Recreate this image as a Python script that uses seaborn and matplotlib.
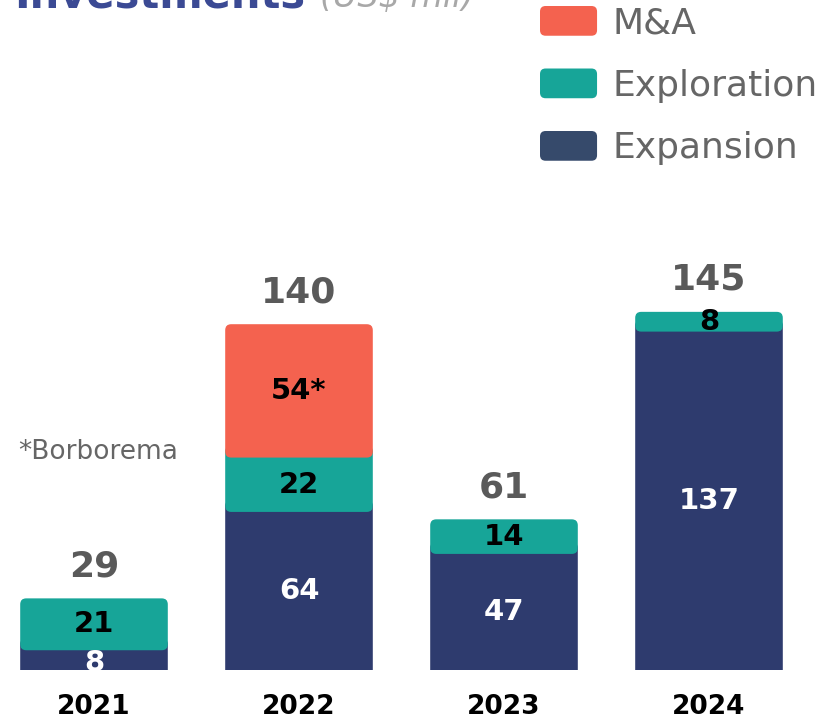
import numpy as np
import pandas as pd
import matplotlib
matplotlib.use("Agg")
import matplotlib.pyplot as plt
import seaborn as sns
from matplotlib.patches import FancyBboxPatch, Patch
from matplotlib.legend_handler import HandlerPatch

sns.set_theme(style="white")
plt.rcParams['font.family'] = ['DejaVu Sans']

# Données (US$ mil)
annees = ["2021", "2022", "2023", "2024"]
expansion = [8, 64, 47, 137]
exploration = [21, 22, 14, 8]
ma = [0, 54, 0, 0]
ma_labels = ["", "54*", "", ""]
totaux = [29, 140, 61, 145]

series = ["Expansion", "Exploration", "M&A"]
couleurs = {"Expansion": "#2E3B6E", "Exploration": "#17A598", "M&A": "#F4624F"}
couleurs_legende = {"Expansion": "#364A6B", "Exploration": "#17A598", "M&A": "#F4624F"}

df = pd.DataFrame({"annee": annees, "Expansion": expansion,
                   "Exploration": exploration, "M&A": ma})

fig = plt.figure(figsize=(8.3, 7.18), dpi=100)
ax = fig.add_axes([0, 48 / 718, 1, 670 / 718])

bas = np.zeros(len(annees))
couches = []
for s in series:
    n0 = len(ax.patches)
    sns.barplot(data=df, x="annee", y=s, color=couleurs[s], width=0.72,
                bottom=bas, ax=ax, saturation=1)
    couches.append((s, ax.patches[n0:], df[s].to_numpy()))
    bas = bas + df[s].to_numpy()

ax.set_xlim(-94 / 205, 736 / 205)
ax.set_ylim(0, 670 / 2.47)

# Coins arrondis
rx = 6 / 205
ry = 6 / 2.47
for k, (s, rects, vals) in enumerate(couches):
    for i, r in enumerate(rects):
        x, y, w, h = r.get_x(), r.get_y(), r.get_width(), r.get_height()
        r.remove()
        if h <= 0:
            continue
        dessus = any(couches[j][2][i] > 0 for j in range(k + 1, len(couches)))
        y0 = y - ry if k == 0 else y
        h1 = (y + h) - y0 + (ry * 2 if dessus else 0)
        p = FancyBboxPatch((x, y0), w, h1,
                           boxstyle=f"round,pad=0,rounding_size={rx}",
                           mutation_aspect=ry / rx, facecolor=couleurs[s],
                           edgecolor="none", zorder=2 + k)
        ax.add_patch(p)

# Étiquettes des segments
bas = np.zeros(len(annees))
for k, s in enumerate(series):
    vals = df[s].to_numpy()
    for i, v in enumerate(vals):
        if v <= 0:
            continue
        txt = ma_labels[i] if s == "M&A" else str(v)
        c = "white" if s == "Expansion" else "black"
        yc = bas[i] + v / 2
        if s == "Expansion" and i == 0:
            yc = bas[i] + v / 2 - 1
        ax.text(i, yc, txt, ha="center", va="center", color=c,
                fontsize=21, fontweight="bold", zorder=10)
    bas = bas + vals

# Totaux
for i, t in enumerate(totaux):
    ax.annotate(str(t), (i, t), xytext=(0, 23), textcoords="offset points",
                ha="center", va="center", fontsize=26, fontweight="bold",
                color="#5A5A5A")

ax.set_xlabel("")
ax.set_ylabel("")
ax.set_yticks([])
ax.tick_params(axis="x", length=0, pad=17)
for lab in ax.get_xticklabels():
    lab.set_fontsize(19)
    lab.set_fontweight("bold")
    lab.set_color("black")
sns.despine(ax=ax, left=True, bottom=True)
ax.patch.set_alpha(0)

# Titre (coupé en haut)
fig.text(305 / 830, 1 - 7 / 718, "Investments", ha="right", va="baseline",
         fontsize=30, fontweight="bold", color="#3B4A94")
fig.text(320 / 830, 1 - 7 / 718, "(US$ mil)", ha="left", va="baseline",
         fontsize=24, fontstyle="italic", color="#A8A8A8")

fig.text(18 / 830, 1 - 452 / 718, "*Borborema", ha="left", va="center",
         fontsize=19, color="#666666")


# Légende avec pastilles arrondies
def pastille(legend, orig_handle, xdescent, ydescent, width, height, fontsize):
    return FancyBboxPatch((-xdescent, -ydescent), width, height,
                          boxstyle="round,pad=0,rounding_size=4")


handles = [Patch(facecolor=couleurs_legende[s], edgecolor="none", label=s)
           for s in ["M&A", "Exploration", "Expansion"]]
leg = fig.legend(handles=handles, loc="upper left",
                 bbox_to_anchor=(540 / 830, 1 - 6 / 718), frameon=False,
                 fontsize=26, borderpad=0, borderaxespad=0,
                 handlelength=1.58, handleheight=0.89, handletextpad=0.42,
                 labelspacing=0.78,
                 handler_map={Patch: HandlerPatch(patch_func=pastille)})
for t in leg.get_texts():
    t.set_color("#666666")

fig.savefig("out.png", dpi=100)
